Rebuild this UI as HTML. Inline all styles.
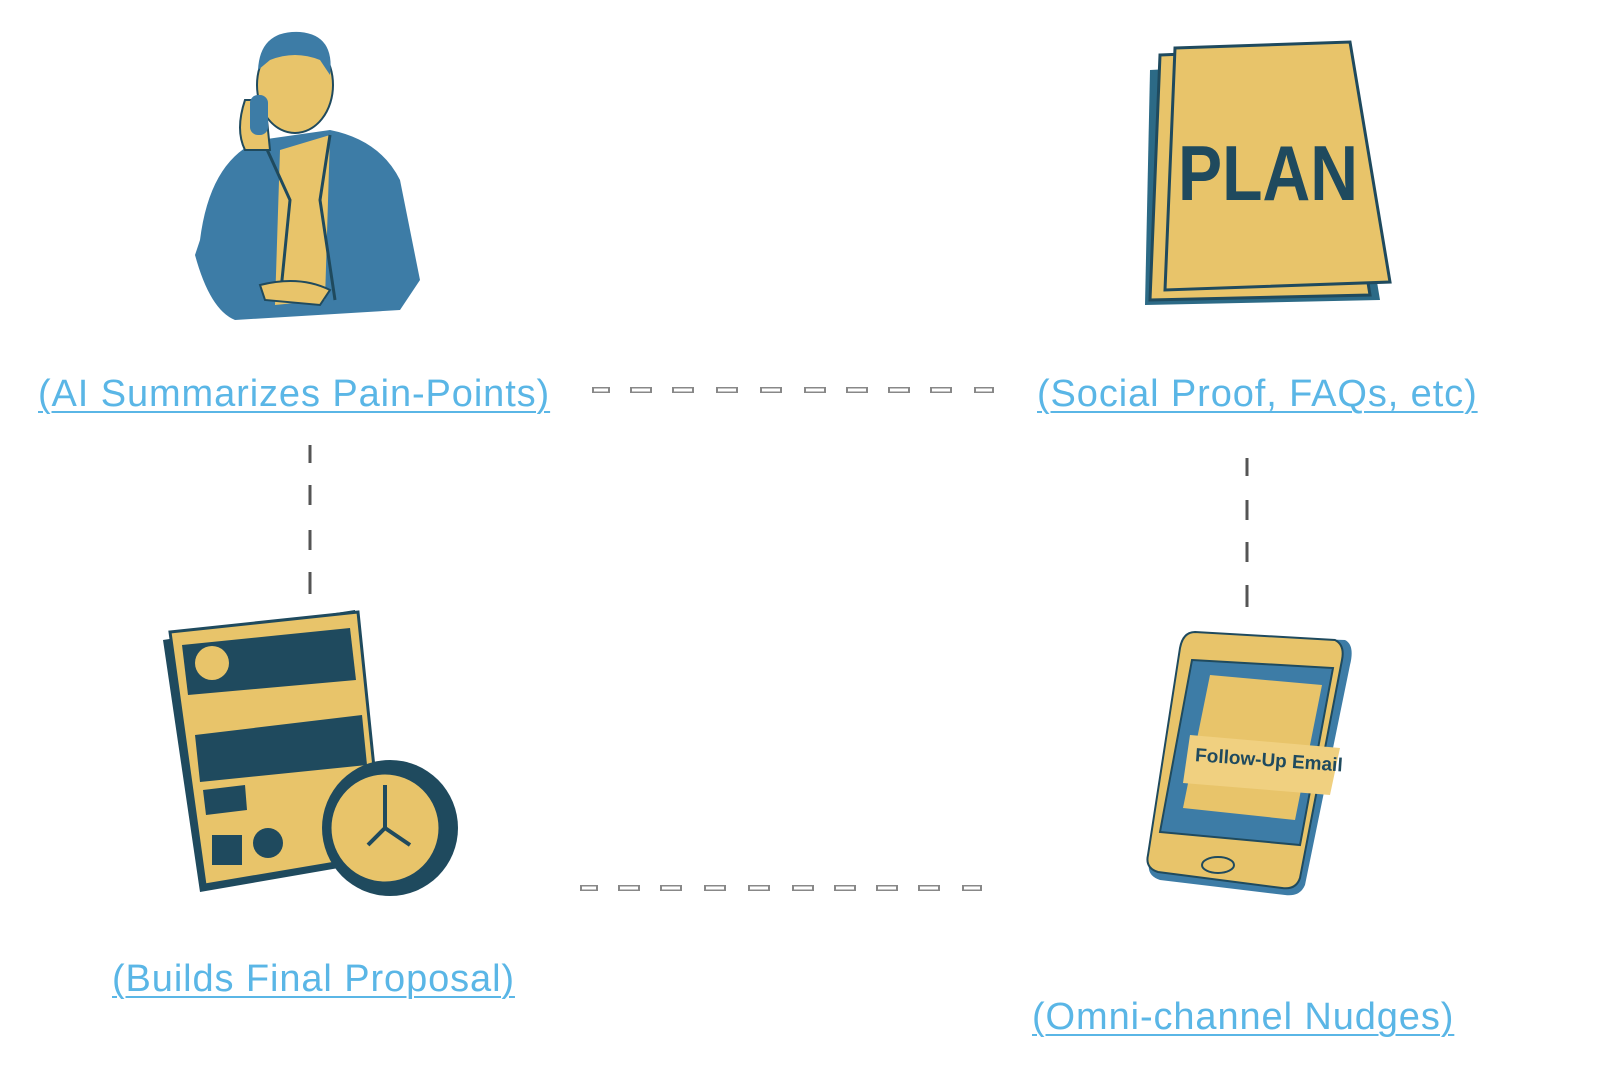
<!DOCTYPE html>
<html><head><meta charset="utf-8"><style>
body{margin:0;width:1600px;height:1067px;background:#fff;overflow:hidden;position:relative;font-family:"Liberation Sans",sans-serif}
.l{position:absolute;color:#5ab6e6;font-size:38px;text-decoration:underline;text-decoration-thickness:2px;text-underline-offset:5px;white-space:nowrap;letter-spacing:0.9px}
svg{position:absolute;left:0;top:0}
</style></head><body>
<svg width="1600" height="1067" viewBox="0 0 1600 1067">
<g>
<path d="M200 240 Q210 160 260 140 L330 130 Q380 140 400 180 L420 280 L400 310 L235 320 Q210 310 195 255 Z" fill="#3d7ca6"/>
<path d="M280 150 L330 135 L325 300 L275 305 Z" fill="#e8c46a"/>
<path d="M265 145 L290 200 L280 300 M330 135 L320 200 L335 300" stroke="#1f4a5e" stroke-width="3" fill="none"/>
<ellipse cx="295" cy="85" rx="38" ry="48" fill="#e8c46a" stroke="#1f4a5e" stroke-width="2"/>
<path d="M258 70 Q260 30 300 32 Q335 35 330 75 L320 60 Q295 50 270 60 Z" fill="#3d7ca6"/>
<path d="M245 100 Q235 130 245 150 L270 150 L265 100 Z" fill="#e8c46a" stroke="#1f4a5e" stroke-width="2"/>
<rect x="250" y="95" width="18" height="40" rx="8" fill="#3d7ca6"/>
<path d="M260 285 Q300 275 330 290 L320 305 L265 300 Z" fill="#e8c46a" stroke="#1f4a5e" stroke-width="2"/>
</g>
<g>
<path d="M1150 70 L1340 60 L1380 300 L1145 305 Z" fill="#2c6a86"/>
<path d="M1160 55 L1330 48 L1370 295 L1150 300 Z" fill="#e8c46a" stroke="#1f4a5e" stroke-width="3"/>
<path d="M1175 48 L1350 42 L1390 282 L1165 290 Z" fill="#e8c46a" stroke="#1f4a5e" stroke-width="3"/>
<text x="1178" y="200" font-family="Liberation Sans" font-weight="bold" font-size="78" fill="#1f4a5e" textLength="180" lengthAdjust="spacingAndGlyphs">PLAN</text>
</g>
<g>
<path d="M163 640 L355 610 L385 860 L200 892 Z" fill="#1f4a5e"/>
<path d="M170 632 L358 612 L383 855 L205 885 Z" fill="#e8c46a" stroke="#1f4a5e" stroke-width="3"/>
<path d="M182 645 L350 628 L356 680 L188 695 Z" fill="#1f4a5e"/>
<circle cx="212" cy="663" r="17" fill="#e8c46a"/>
<path d="M195 735 L362 715 L367 765 L200 782 Z" fill="#1f4a5e"/>
<path d="M203 790 L245 785 L247 810 L206 815 Z" fill="#1f4a5e"/>
<circle cx="268" cy="843" r="15" fill="#1f4a5e"/>
<rect x="212" y="835" width="30" height="30" fill="#1f4a5e"/>
<circle cx="390" cy="828" r="68" fill="#1f4a5e"/>
<circle cx="385" cy="828" r="55" fill="#e8c46a" stroke="#1f4a5e" stroke-width="3"/>
<path d="M385 828 L385 785 M385 828 L410 845 M385 828 L368 845" stroke="#1f4a5e" stroke-width="4"/>
</g>
<g>
<path d="M1200 635 L1345 640 Q1355 645 1350 665 L1305 885 Q1300 897 1285 895 L1160 880 Q1145 875 1150 860 L1185 650 Q1190 635 1200 635Z" fill="#3d7ca6"/>
<path d="M1195 632 L1335 640 Q1345 645 1342 660 L1300 878 Q1296 890 1282 888 L1158 872 Q1145 868 1148 855 L1180 648 Q1183 632 1195 632Z" fill="#e8c46a" stroke="#1f4a5e" stroke-width="2"/>
<path d="M1192 660 L1333 668 L1300 845 L1160 832 Z" fill="#3d7ca6" stroke="#1f4a5e" stroke-width="2"/>
<path d="M1210 675 L1322 685 L1295 820 L1183 808 Z" fill="#e8c46a"/>
<path d="M1190 735 L1340 748 L1330 795 L1183 783 Z" fill="#f0d080"/>
<text x="1195" y="765" font-family="Liberation Sans" font-weight="bold" font-size="19" fill="#1f4a5e" transform="rotate(4 1250 760)">Follow-Up Email</text>
<ellipse cx="1218" cy="865" rx="16" ry="8" fill="none" stroke="#1f4a5e" stroke-width="2"/>
</g>
<g fill="none" stroke="#555" stroke-width="1.5">
<g stroke-width="6" stroke="#888"><path d="M592 390h18M630 390h22M672 390h22M716 390h22M760 390h22M804 390h22M846 390h22M888 390h22M930 390h22M974 390h20"/>
<path d="M580 888h18M618 888h22M660 888h22M704 888h22M748 888h22M792 888h22M834 888h22M876 888h22M918 888h22M962 888h20"/></g>
<g stroke-width="3" stroke="#fff"><path d="M594 390h14M632 390h18M674 390h18M718 390h18M762 390h18M806 390h18M848 390h18M890 390h18M932 390h18M976 390h16"/>
<path d="M582 888h14M620 888h18M662 888h18M706 888h18M750 888h18M794 888h18M836 888h18M878 888h18M920 888h18M964 888h16"/></g>
<path d="M310 445v18M310 485v20M310 530v20M310 572v22" stroke-width="3"/>
<path d="M1247 458v18M1247 500v20M1247 542v20M1247 585v22" stroke-width="3"/>
</g>
</svg>
<div class="l" style="left:38px;top:373px">(AI Summarizes Pain-Points)</div>
<div class="l" style="left:1037px;top:373px">(Social Proof, FAQs, etc)</div>
<div class="l" style="left:112px;top:958px">(Builds Final Proposal)</div>
<div class="l" style="left:1032px;top:996px">(Omni-channel Nudges)</div>
</body></html>
